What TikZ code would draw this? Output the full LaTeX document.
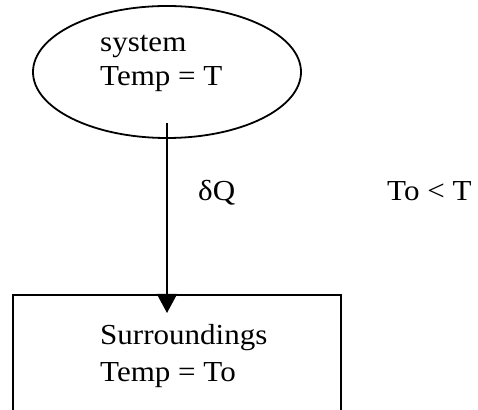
\documentclass[tikz,border=0pt]{standalone}
\usepackage{fontspec}
\setmainfont{Liberation Serif}[FakeStretch=1.07]
\usetikzlibrary{arrows.meta,shapes.geometric}
\begin{document}
\begin{tikzpicture}[x=1pt,y=1pt,
  lbl/.style={inner sep=0pt, anchor=base west, font=\fontsize{29}{34}\selectfont},
  shape line/.style={draw=black, line width=1.8pt},
  flow/.style={draw=black, line width=1.8pt, -{Triangle[width=20pt,length=19pt]}}]
\clip (0,0) rectangle (478,409);
\fill[white] (0,0) rectangle (478,409);
% system ellipse
\node[ellipse, shape line, inner sep=0pt, minimum width=268pt, minimum height=132pt] (sys) at (167,337) {};
\node[lbl] (sysname) at (100,357) {system};
\node[lbl] (systemp) at (100,323) {Temp = T};
% surroundings box (bottom edge outside the picture)
\node[rectangle, shape line, inner sep=0pt, minimum width=328pt, minimum height=170pt, anchor=north] (sur) at (177,115) {};
\node[lbl] (surname) at (100,64) {Surroundings};
\node[lbl] (surtemp) at (100,28) {Temp = To};
% heat flow
\draw[flow] ([yshift=16pt]sys.south -| 167,0) -- ([yshift=-19pt]sur.north -| 167,0);
\node[lbl] (dq) at (198,208) {δQ};
\node[lbl] (cond) at (387,208) {To < T};
\end{tikzpicture}
\end{document}
